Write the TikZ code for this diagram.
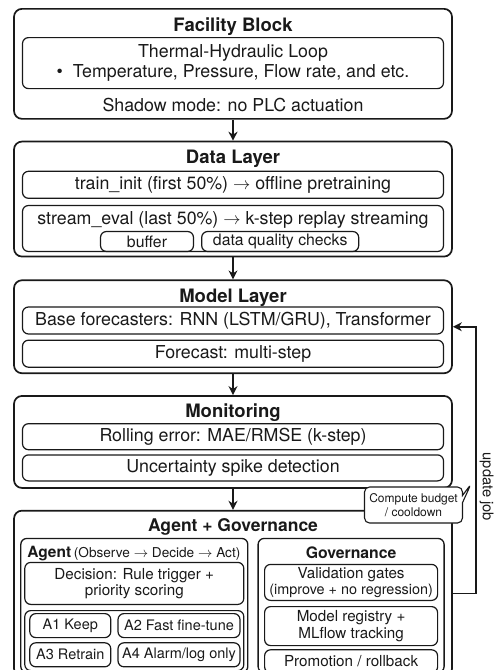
\documentclass[tikz,border=0pt]{standalone}
\usepackage{fontspec}
\setmainfont{TeX Gyre Heros}
\usepackage{xcolor}
\usepackage{tikz}
\usetikzlibrary{arrows.meta, positioning, shapes.callouts}
\definecolor{inkdark}{RGB}{25,25,25}
\newcommand{\headfont}{\fontsize{18.5}{20}\selectfont\bfseries}
\newcommand{\bodyfont}{\fontsize{17.8}{19.5}\selectfont}
\newcommand{\smallbody}{\fontsize{15.8}{17}\selectfont}
\newcommand{\agentfont}{\fontsize{15.2}{16.5}\selectfont}
\newcommand{\actfont}{\fontsize{14.5}{16}\selectfont}

\begin{document}
\begin{tikzpicture}[
    x=1pt, y=-1pt,
    frame/.style={draw=inkdark, line width=1.7pt, rounded corners=8pt, minimum width=438pt, inner sep=0pt},
    subframe/.style={draw=inkdark, line width=1.3pt, rounded corners=6pt, inner sep=0pt},
    box/.style={draw=inkdark, line width=1.2pt, rounded corners=6pt, minimum width=421pt, align=center, font=\bodyfont, text=inkdark, inner sep=1pt},
    smallbox/.style={draw=inkdark, line width=1.2pt, rounded corners=6pt, align=center, font=\agentfont, text=inkdark, inner sep=1pt},
    head/.style={font=\headfont, text=inkdark, inner sep=0pt, text height=13pt, text depth=3.5pt},
    txt/.style={font=\bodyfont, text=inkdark, inner sep=0pt, text height=12.8pt, text depth=3.5pt},
    arr/.style={-{Stealth[length=9pt, width=9pt]}, line width=1.6pt, draw=inkdark}
]
\useasboundingbox (0,0) rectangle (495,670);

% facility
\node[frame, minimum height=110pt, anchor=north] (facility) at (233,8) {};
\node[head, below=10pt of facility.north] (facilityHead) {Facility Block};
\node[box, minimum height=51pt, below=29pt of facility.north] (loop)
  {Thermal-Hydraulic Loop\\\textbullet\hspace{10pt}Temperature, Pressure, Flow rate, and etc.};
\node[txt, below=9pt of loop] (shadow) {Shadow mode: no PLC actuation};

% data layer
\node[frame, minimum height=115pt, below=21pt of facility] (data) {};
\node[head, below=10pt of data.north] (dataHead) {Data Layer};
\node[box, minimum height=27pt, below=30pt of data.north] (trainInit)
  {train\_init (first 50\%) $\rightarrow$ offline pretraining};
\node[box, minimum height=46pt, below=6pt of trainInit] (streamEval) {};
\node[txt, below=7pt of streamEval.north] (streamText)
  {stream\_eval (last 50\%) $\rightarrow$ k-step replay streaming};
\node[smallbox, font=\smallbody, minimum width=93pt, minimum height=20pt,
  above right=0pt and 78pt of streamEval.south west] (buffer) {buffer};
\node[smallbox, font=\smallbody, minimum width=157pt, minimum height=20pt,
  right=7pt of buffer] (quality) {data quality checks};

% model layer
\node[frame, minimum height=93pt, below=22pt of data] (model) {};
\node[head, below=10pt of model.north] (modelHead) {Model Layer};
\node[box, minimum height=27pt, below=27pt of model.north] (base)
  {Base forecasters: RNN (LSTM/GRU), Transformer};
\node[box, minimum height=27pt, below=5pt of base] (forecast) {Forecast: multi-step};

% monitoring
\node[frame, minimum height=92pt, below=21pt of model] (monitor) {};
\node[head, below=9pt of monitor.north] (monitorHead) {Monitoring};
\node[box, minimum height=26pt, below=28pt of monitor.north] (rolling)
  {Rolling error: MAE/RMSE (k-step)};
\node[box, minimum height=26pt, below=4pt of rolling] (spike) {Uncertainty spike detection};

% agent + governance
\node[frame, minimum height=166pt, below=21pt of monitor] (agentgov) {};
\node[head, font=\fontsize{17.5}{19}\selectfont\bfseries, text height=12.6pt, below=9pt of agentgov.north] (agentgovHead)
  {Agent + Governance};

\node[subframe, minimum width=227pt, minimum height=134pt,
  below right=28pt and 7pt of agentgov.north west] (agentFrame) {};
\node[subframe, minimum width=186pt, minimum height=134pt, right=9pt of agentFrame] (govFrame) {};

\node[inner sep=0pt, text height=11.2pt, text depth=3pt, text=inkdark, anchor=north west,
  below right=8pt and 7pt of agentFrame.north west] (agentHead)
  {{\fontsize{15.5}{17}\selectfont\bfseries Agent} {\fontsize{13.6}{15}\selectfont(Observe $\rightarrow$ Decide $\rightarrow$ Act)}};
\node[smallbox, minimum width=219pt, minimum height=42pt, below=24pt of agentFrame.north] (decision)
  {Decision: Rule trigger +\\priority scoring};
\node[subframe, line width=1.2pt, minimum width=219pt, minimum height=60pt, below=5pt of decision] (actions) {};
\node[smallbox, font=\actfont, minimum width=81pt, minimum height=24pt,
  below right=3pt and 5pt of actions.north west] (aKeep) {A1 Keep};
\node[smallbox, font=\actfont, minimum width=122pt, minimum height=24pt,
  right=6pt of aKeep] (aFine) {A2 Fast fine-tune};
\node[smallbox, font=\actfont, minimum width=81pt, minimum height=24pt,
  below=4pt of aKeep] (aRetrain) {A3 Retrain};
\node[smallbox, font=\actfont, minimum width=122pt, minimum height=24pt,
  below=4pt of aFine] (aAlarm) {A4 Alarm/log only};

\node[head, font=\fontsize{15.8}{17}\selectfont\bfseries, text height=11.3pt, below=9pt of govFrame.north] (govHead)
  {Governance};
\node[smallbox, minimum width=173pt, minimum height=36pt, below=26pt of govFrame.north] (validation)
  {Validation gates\\{\fontsize{14.4}{15.5}\selectfont(improve + no regression)}};
\node[smallbox, minimum width=173pt, minimum height=39pt, below=5pt of validation] (registry)
  {Model registry +\\MLflow tracking};
\node[smallbox, minimum width=173pt, minimum height=23pt, below=3pt of registry] (promotion)
  {Promotion / rollback};

% connectors
\draw[arr] (facility) -- (data);
\draw[arr] (data) -- (model);
\draw[arr] (model) -- (monitor);
\draw[arr] (monitor) -- (agentgov);
\draw[arr] (agentgov.east) -- ++(23,0) |- node[pos=0.2, rotate=-90, anchor=south, inner sep=3pt,
  font=\fontsize{14.7}{16}\selectfont, text=inkdark] {update job} (model.east);

\node[rectangle callout, draw=inkdark, line width=1.1pt, fill=white, rounded corners=5pt,
  minimum width=98pt, minimum height=36pt, align=center, inner sep=1pt,
  font=\fontsize{12}{14.5}\selectfont, text=inkdark,
  callout absolute pointer={(471,484)}] (budget) at (413.5,505)
  {Compute budget\\/ cooldown};

\end{tikzpicture}
\end{document}
